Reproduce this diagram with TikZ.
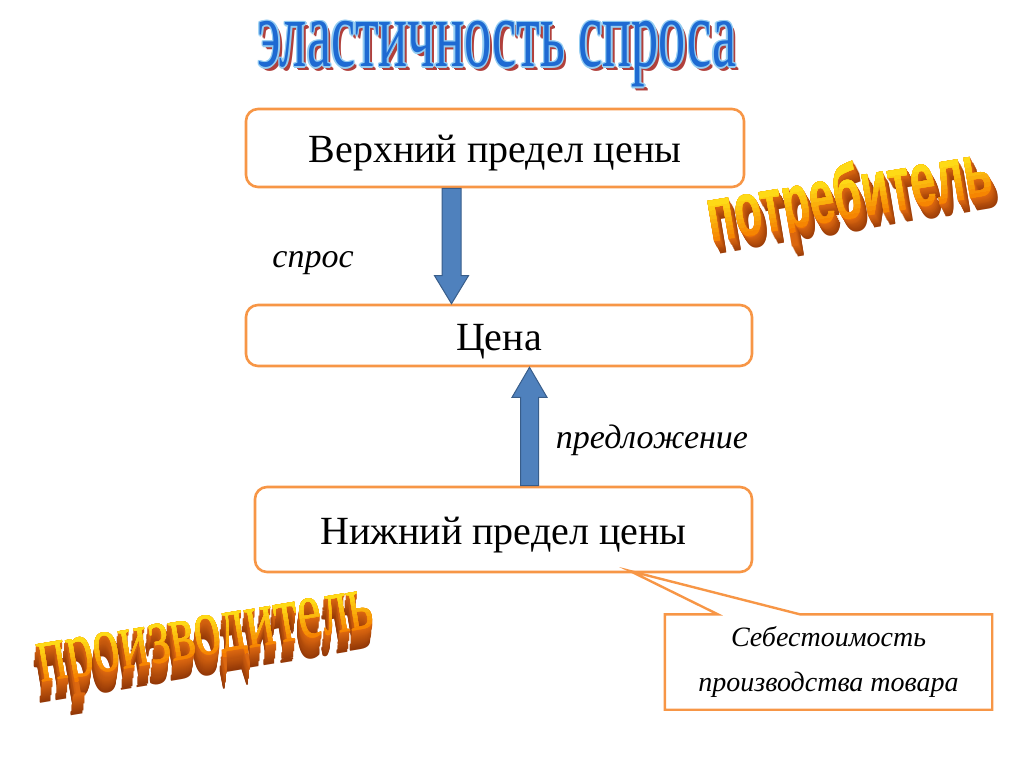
\documentclass[tikz,border=0pt]{standalone}
\usepackage{fontspec}
\setmainfont{Liberation Serif}
\newfontfamily\wordsans{Liberation Sans}
\usetikzlibrary{calc}
\definecolor{boxorange}{HTML}{F79646}
\definecolor{arrowblue}{HTML}{4F81BD}
\definecolor{arrowedge}{HTML}{385D8A}
\definecolor{titleblue}{HTML}{1E6AD2}
\definecolor{titlelight}{HTML}{94CDF2}
\definecolor{titlered}{HTML}{B0403C}
\definecolor{facetop}{HTML}{FFE418}
\definecolor{facebot}{HTML}{F57A00}
\definecolor{sidelight}{HTML}{E06A10}
\definecolor{sidedark}{HTML}{8A3206}
\tikzset{
  pricebox/.style={draw=boxorange, line width=2.6pt, rounded corners=12pt, fill=white, inner sep=0pt,
    text height=30pt, text depth=0pt, font=\fontsize{40}{44}\selectfont},
  fatarrow/.style={fill=arrowblue, draw=arrowedge, line width=1pt, line join=miter},
  flowlabel/.style={font=\fontsize{34}{38}\itshape\selectfont, inner sep=0pt, anchor=base},
  calloutbox/.style={draw=boxorange, line width=2.4pt, line join=miter},
  callouttext/.style={font=\fontsize{28}{45}\itshape\selectfont, align=center, inner sep=0pt},
  wordart/.style={inner sep=0pt, anchor=base, transform shape}
}
\newcommand{\titletext}{\scalebox{0.565}[1]{\fontsize{96}{100}\selectfont эластичность спроса}}
\newcommand{\consumertext}{\scalebox{0.58}[1]{\wordsans\bfseries\fontsize{78}{80}\selectfont потребитель}}
\newcommand{\producertext}{\scalebox{0.65}[1]{\fontsize{83}{85}\selectfont производитель}}
\begin{document}
\begin{tikzpicture}[x=1pt,y=-1pt]
\useasboundingbox (0,0) rectangle (1024,767);

% title (word art)
\foreach \dx/\dy/\c [count=\n] in {3.5/3.5/titlered,2.5/2.5/titlered,-1.3/0/titlelight,1.3/0/titlelight,0/-1.3/titlelight,0/1.3/titlelight,-1/-1/titlelight,1/1/titlelight,1/-1/titlelight,-1/1/titlelight}
  \node[wordart, text=\c] (titlecopy\n) at ($(497,67)+(\dx,\dy)$) {\titletext};
\node[wordart, text=titleblue] (title) at (497,67) {\titletext};

% boxes
\node[pricebox, minimum width=498pt, minimum height=78pt] (upper) at (495,148) {Верхний предел цены};
\node[pricebox, minimum width=506pt, minimum height=61pt] (price) at (499,335.5) {Цена};
\node[pricebox, minimum width=497pt, minimum height=85pt] (lower) at (503.5,529.5) {Нижний предел цены};

% demand arrow
\coordinate (d1) at (451.5,0 |- upper.south);
\coordinate (d2) at (451.5,0 |- price.north);
\draw[fatarrow] ($(d1)+(-9.5,0)$) -- ($(d2)+(-9.5,-28)$) -- ($(d2)+(-17,-28)$) -- (d2) -- ($(d2)+(17,-28)$) -- ($(d2)+(9.5,-28)$) -- ($(d1)+(9.5,0)$) -- cycle;
% supply arrow
\coordinate (s1) at (529.5,0 |- lower.north);
\coordinate (s2) at (529.5,0 |- price.south);
\draw[fatarrow] ($(s1)+(-9,0)$) -- ($(s2)+(-9,30)$) -- ($(s2)+(-17.5,30)$) -- (s2) -- ($(s2)+(17.5,30)$) -- ($(s2)+(9,30)$) -- ($(s1)+(9,0)$) -- cycle;

\node[flowlabel] (demand) at (313,267) {спрос};
\node[flowlabel] (supply) at (652,448) {предложение};

% callout
\node[callouttext, minimum width=327pt, minimum height=95pt] (cost) at (828.5,662) {Себестоимость\\производства товара};
\coordinate (tip) at (630,571);
\draw[calloutbox] (cost.north west) -- ($(cost.north west)+(53,0)$) -- (tip) -- ($(cost.north west)+(135,0)$) -- (cost.north east) -- (cost.south east) -- (cost.south west) -- cycle;

% consumer word art
\begin{scope}[shift={(853,219)}, rotate=9.5]
  \foreach \i in {13,12,...,1}
    \node[wordart, text=sidelight!\fpeval{100-6*\i}!sidedark] (cside\i) at (0.35*\i,0.95*\i) {\consumertext};
  \foreach \k in {0,...,9} {
    \begin{scope}
      \clip (-250,-120) rectangle (250,{-41+4.4*(10-\k)});
      \node[wordart, text=facetop!\fpeval{10*\k}!facebot] (cface\k) at (0,0) {\consumertext};
    \end{scope}
  }
  \coordinate (consumer) at (0,0);
\end{scope}

% producer word art
\begin{scope}[shift={(209,655)}, rotate=9.5]
  \foreach \i in {20,19,...,1}
    \node[wordart, text=sidelight!\fpeval{100-4.5*\i}!sidedark] (pside\i) at (-0.3*\i,1.0*\i) {\producertext};
  \foreach \k in {0,...,9} {
    \begin{scope}
      \clip (-300,-130) rectangle (300,{-38+4.2*(10-\k)});
      \node[wordart, text=facetop!\fpeval{10*\k}!facebot] (pface\k) at (0,0) {\producertext};
    \end{scope}
  }
  \coordinate (producer) at (0,0);
\end{scope}
\end{tikzpicture}
\end{document}
